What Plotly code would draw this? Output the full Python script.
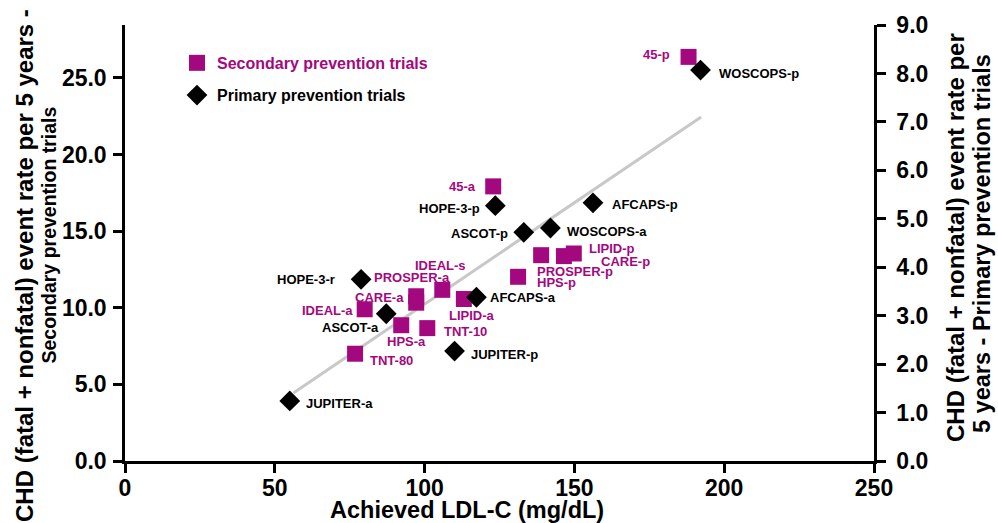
import plotly.graph_objects as go

# Secondary prevention trials (left axis)
sec_names = ["45-p", "45-a", "IDEAL-s", "PROSPER-a", "CARE-a", "IDEAL-a", "HPS-a",
             "TNT-10", "TNT-80", "LIPID-a", "HPS-p", "PROSPER-p", "CARE-p", "LIPID-p"]
sec_ldl = [188.1, 122.9, 105.9, 97.2, 97.2, 80.0, 92.2,
           100.9, 76.8, 113.1, 131.2, 138.9, 146.5, 149.8]
sec_rate = [26.37, 17.92, 11.17, 10.75, 10.33, 9.90, 8.86,
            8.67, 7.00, 10.57, 12.02, 13.43, 13.37, 13.54]

# Primary prevention trials (right axis)
pri_names = ["WOSCOPS-p", "AFCAPS-p", "HOPE-3-p", "ASCOT-p", "WOSCOPS-a",
             "AFCAPS-a", "HOPE-3-r", "ASCOT-a", "JUPITER-p", "JUPITER-a"]
pri_ldl = [192.1, 156.2, 123.6, 133.1, 142.0, 117.3, 78.8, 87.2, 110.0, 55.0]
pri_rate = [8.07, 5.33, 5.27, 4.72, 4.81, 3.38, 3.75, 3.04, 2.27, 1.24]

# Regression line (left-axis units)
fit_ldl = [56.2, 192.3]
fit_rate = [4.44, 22.45]

x_ticks = [0, 50, 100, 150, 200, 250]
y_ticks = [0, 5, 10, 15, 20, 25]
y2_ticks = [0, 1, 2, 3, 4, 5, 6, 7, 8, 9]

PURPLE = "#A3087E"
FONT = "Liberation Sans, Arial, sans-serif"

# label placement: (anchor, dx px, dy px downward)
sec_label_pos = {
    "45-p": ("right", -17, -2.7), "45-a": ("right", -15.5, 0.5),
    "IDEAL-s": ("center", -1.7, -24.2), "PROSPER-a": ("center", -4, -18.3),
    "CARE-a": ("right", -10.7, -5.5), "IDEAL-a": ("right", -9.3, 1.7),
    "HPS-a": ("center", 5.3, 16.7), "TNT-10": ("left", 14.3, 2.9),
    "TNT-80": ("left", 12.6, 6.5), "LIPID-a": ("center", 8.4, 16.2),
    "HPS-p": ("left", 16.6, 6.2), "PROSPER-p": ("left", -6.4, 16),
    "CARE-p": ("left", 35, 5.2), "LIPID-p": ("left", 12.7, -5),
}
pri_label_pos = {
    "WOSCOPS-p": ("left", 16.7, 3.1), "AFCAPS-p": ("left", 16.8, 1.7),
    "HOPE-3-p": ("right", -13.1, 2.4), "ASCOT-p": ("right", -14, 0.7),
    "WOSCOPS-a": ("left", 14.5, 3.2), "AFCAPS-a": ("left", 11.5, 0.2),
    "HOPE-3-r": ("right", -24.5, 0.3), "ASCOT-a": ("right", -5.1, 13.4),
    "JUPITER-p": ("left", 14.1, 3.5), "JUPITER-a": ("left", 14.1, 2.5),
}

fig = go.Figure()

fig.add_trace(go.Scatter(
    x=fit_ldl, y=fit_rate, mode="lines", yaxis="y",
    line=dict(color="#C8C8C8", width=3), showlegend=False, hoverinfo="skip"))

fig.add_trace(go.Scatter(
    x=sec_ldl, y=sec_rate, mode="markers", yaxis="y",
    name="Secondary prevention trials", legend="legend",
    marker=dict(symbol="square", size=16, color=PURPLE, line=dict(width=0))))

fig.add_trace(go.Scatter(
    x=pri_ldl, y=pri_rate, mode="markers", yaxis="y2",
    name="Primary prevention trials", legend="legend2",
    marker=dict(symbol="diamond", size=16, color="black", line=dict(width=0))))

annotations = []
for n, xv, yv in zip(sec_names, sec_ldl, sec_rate):
    anc, dx, dy = sec_label_pos[n]
    annotations.append(dict(
        x=xv, y=yv, xref="x", yref="y", text=n, showarrow=False,
        xanchor=anc, yanchor="middle", xshift=dx, yshift=-dy,
        font=dict(family=FONT, size=13, color=PURPLE, weight="bold")))
for n, xv, yv in zip(pri_names, pri_ldl, pri_rate):
    anc, dx, dy = pri_label_pos[n]
    annotations.append(dict(
        x=xv, y=yv, xref="x", yref="y2", text=n, showarrow=False,
        xanchor=anc, yanchor="middle", xshift=dx, yshift=-dy,
        font=dict(family=FONT, size=13, color="black", weight="bold")))


def title_line(text, px_x, px_y, size):
    """Rotated axis-title line centred on a pixel position of the page."""
    return dict(
        text=text, xref="paper", yref="paper", x=0, y=1,
        xshift=px_x - 125, yshift=25 - px_y, xanchor="center", yanchor="middle",
        textangle=-90, showarrow=False,
        font=dict(family=FONT, size=size, color="black", weight="bold"))


annotations += [
    title_line("CHD (fatal + nonfatal) event rate per 5 years -", 24, 266, 24),
    title_line("Secondary prevention trials", 48.5, 235, 19.5),
    title_line("CHD (fatal + nonfatal) event rate per", 955, 238, 24),
    title_line("5 years - Primary prevention trials", 982, 244, 23.5),
]
annotations.append(dict(
    text="Achieved LDL-C (mg/dL)", xref="paper", yref="paper",
    x=0.457, y=0, yshift=-49, xanchor="center", yanchor="middle",
    showarrow=False, font=dict(family=FONT, size=23.5, color="black", weight="bold")))

axis_common = dict(
    showline=True, linecolor="black", linewidth=2.5, ticks="outside",
    ticklen=9, tickwidth=2.5, tickcolor="black", showgrid=False, zeroline=False,
    tickfont=dict(family=FONT, size=23, color="black", weight="bold"))

fig.update_layout(
    width=998, height=523,
    margin=dict(l=125, r=124, t=25, b=62),
    plot_bgcolor="white", paper_bgcolor="white",
    font=dict(family=FONT, color="black", weight="bold"),
    xaxis=dict(range=[0, 250], tickvals=x_ticks, ticklabelstandoff=-4, **axis_common),
    yaxis=dict(range=[0, 28.45], tickvals=y_ticks, tickformat=".1f",
               ticklabelstandoff=2, **axis_common),
    yaxis2=dict(range=[0, 9], tickvals=y2_ticks, tickformat=".1f",
                overlaying="y", side="right", ticklabelstandoff=6, **axis_common),
    legend=dict(x=0.0694, y=0.913, xanchor="left", yanchor="middle",
                bgcolor="rgba(0,0,0,0)",
                font=dict(family=FONT, size=16, color=PURPLE, weight="bold")),
    legend2=dict(x=0.0694, y=0.839, xanchor="left", yanchor="middle",
                 bgcolor="rgba(0,0,0,0)",
                 font=dict(family=FONT, size=16, color="black", weight="bold")),
    annotations=annotations,
    showlegend=True,
)

fig.write_html("out.html")
